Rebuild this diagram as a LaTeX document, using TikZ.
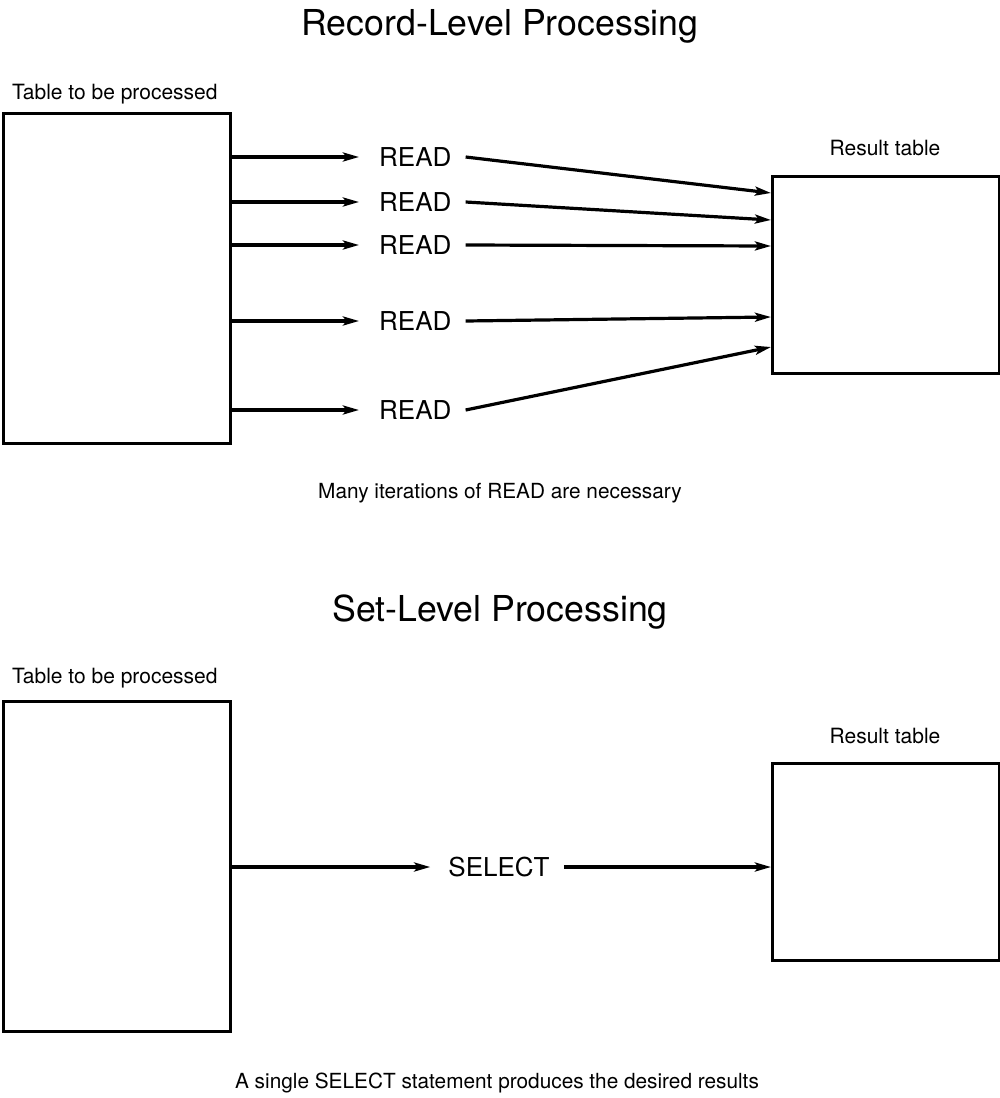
\documentclass[tikz,border=0pt]{standalone}
\usepackage{fontspec}
\setmainfont{TeX Gyre Heros}
\usetikzlibrary{arrows.meta,calc}
\begin{document}
\begin{tikzpicture}[x=1pt,y=-1pt,
  box/.style={draw,line width=3.2pt,inner sep=0pt,anchor=north west},
  arr/.style={line width=3.2pt,-{Stealth[length=16pt,width=9pt,inset=3.5pt]}},
  titletext/.style={font=\fontsize{35.7}{40}\selectfont,inner sep=0pt},
  lbl/.style={font=\fontsize{21}{24}\selectfont,inner sep=0pt},
  captext/.style={font=\fontsize{20.8}{24}\selectfont,inner sep=0pt},
  op/.style={font=\fontsize{26}{30}\selectfont,inner sep=0pt},
]
\useasboundingbox (0,0) rectangle (1000,1098);
% ---------- Record-level ----------
\node[titletext] (t1) at (500,26) {Record-Level Processing};
\node[lbl,anchor=west] (l1) at (12,94) {Table to be processed};
\node[box,minimum width=227pt,minimum height=330pt] (tb1) at (2,112) {};
\node[lbl] (rl1) at (885,148) {Result table};
\node[box,minimum width=227pt,minimum height=197pt] (rb1) at (771,175) {};
\foreach \i/\y in {1/157,2/202,3/245,4/321,5/410}{
  \node[op,anchor=west] (r\i) at (379,\y) {READ};
}
\foreach \i in {1,...,5}{
  \draw[arr] (tb1.east |- r\i.west) -- ([xshift=-20pt]r\i.west);
}
\coordinate (e1) at (771,193);
\coordinate (e2) at (771,220);
\coordinate (e3) at (771,246);
\coordinate (e4) at (771,317);
\coordinate (e5) at (771,347);
\foreach \i in {1,...,5}{
  \draw[arr] ([xshift=14pt]r\i.east) -- (e\i);
}
\node[captext] (c1) at (500,493) {Many iterations of READ are necessary};
% ---------- Set-level ----------
\node[titletext] (t2) at (500,612) {Set-Level Processing};
\node[lbl,anchor=west] (l2) at (12,678) {Table to be processed};
\node[box,minimum width=227pt,minimum height=330pt] (tb2) at (2,700) {};
\node[lbl] (rl2) at (885,736) {Result table};
\node[box,minimum width=227pt,minimum height=197pt] (rb2) at (771,762) {};
\node[op] (s) at (499,867) {SELECT};
\draw[arr] (tb2.east |- s.west) -- ([xshift=-18pt]s.west);
\draw[arr] ([xshift=14pt]s.east) -- (rb2.west |- s.east);
\node[captext] (c2) at (497,1083) {A single SELECT statement produces the desired results};
\end{tikzpicture}
\end{document}
